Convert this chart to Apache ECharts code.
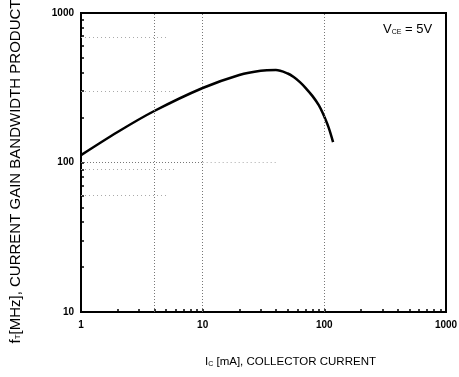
<!DOCTYPE html>
<html>
<head>
<meta charset="utf-8">
<script src="https://cdn.jsdelivr.net/npm/echarts@6/dist/echarts.min.js"></script>
<style>
  html, body { margin: 0; padding: 0; background: #fff; }
  #main { width: 459px; height: 377px; }
</style>
</head>
<body>
<div id="main"></div>
<script>
var myChart = echarts.init(document.getElementById('main'));

// collector current (mA) and gain bandwidth product (MHz)
var collectorCurrent = [1, 2, 4, 10, 20, 30, 40, 50, 56, 63, 70, 80, 90, 97, 108, 118];
var bandwidth = [112, 160, 221, 315, 385, 411, 415, 394, 373, 345, 316, 278, 242, 214, 173, 137];
var xTicks = [1, 10, 100, 1000];
var yTicks = [10, 100, 1000];

// small ticks at 1..9 of each decade
function decadeTicks(lo, hi) {
    var out = [];
    for (var d = lo; d < hi; d *= 10) {
        for (var k = 1; k < 10; k++) out.push(d * k);
    }
    out.push(hi);
    return out;
}

var curve = collectorCurrent.map(function (c, i) { return [c, bandwidth[i]]; });

var labelStyle = {
    color: '#000',
    fontFamily: 'Liberation Sans',
    fontWeight: 'bold',
    fontSize: 10,
    formatter: function (v) { return String(Math.round(v)); }
};

var dotted = { color: '#777', type: [1, 2], width: 1 };
var faint = { color: '#aaa', type: [1, 3], width: 1 };

option = {
    animation: false,
    grid: {
        left: 81,
        right: 13,
        top: 13,
        bottom: 65,
        outerBoundsMode: 'none',
        containLabel: false,
        show: true,
        borderColor: '#000',
        borderWidth: 2
    },
    xAxis: {
        type: 'log',
        min: 1,
        max: 1000,
        logBase: 10,
        axisLine: { lineStyle: { color: '#000', width: 2 } },
        axisTick: {
            show: true,
            inside: true,
            length: 3,
            customValues: decadeTicks(1, 1000),
            lineStyle: { color: '#000', width: 1.5 }
        },
        axisLabel: Object.assign({ margin: 8, customValues: xTicks }, labelStyle),
        splitLine: { show: false }
    },
    yAxis: {
        type: 'log',
        min: 10,
        max: 1000,
        logBase: 10,
        axisLine: { lineStyle: { color: '#000', width: 2 } },
        axisTick: {
            show: true,
            inside: true,
            length: 3,
            customValues: decadeTicks(10, 1000),
            lineStyle: { color: '#000', width: 1.5 }
        },
        axisLabel: Object.assign({ margin: 7, customValues: yTicks }, labelStyle),
        splitLine: { show: false },
        name: '{t|f}{s|T}{t|[MHz], CURRENT GAIN BANDWIDTH PRODUCT}',
        nameLocation: 'middle',
        nameGap: 58,
        nameTextStyle: {
            padding: [0, 18, 0, 0],
            rich: {
                t: { fontFamily: 'Liberation Sans', fontSize: 15, color: '#000' },
                s: { fontFamily: 'Liberation Sans', fontSize: 8, color: '#000', padding: [5, 0, 0, 0] }
            }
        }
    },
    graphic: [
        {
            type: 'text',
            left: 205,
            top: 356,
            style: {
                text: '{t|I}{s|C}{t| [mA], COLLECTOR CURRENT}',
                rich: {
                    t: { fontFamily: 'Liberation Sans', fontSize: 11.5, fill: '#000' },
                    s: { fontFamily: 'Liberation Sans', fontSize: 7, fill: '#000', padding: [4, 0, 0, 0] }
                }
            }
        },
        {
            type: 'text',
            left: 383,
            top: 23,
            style: {
                text: '{t|V}{s|CE}{t| = 5V}',
                rich: {
                    t: { fontFamily: 'Liberation Sans', fontSize: 13, fill: '#000' },
                    s: { fontFamily: 'Liberation Sans', fontSize: 7, fill: '#000', padding: [5, 0, 0, 0] }
                }
            }
        }
    ],
    series: [
        {
            type: 'line',
            data: curve,
            smooth: 0.3,
            showSymbol: false,
            lineStyle: { color: '#000', width: 2.5 },
            markLine: {
                silent: true,
                symbol: 'none',
                label: { show: false },
                lineStyle: dotted,
                data: [
                    [{ coord: [4, 10] }, { coord: [4, 1000] }],
                    [{ coord: [10, 10] }, { coord: [10, 1000] }],
                    [{ coord: [100, 10] }, { coord: [100, 1000] }],
                    [{ coord: [1, 100] }, { coord: [10, 100] }],
                    [{ coord: [10, 100], lineStyle: faint }, { coord: [40, 100] }],
                    [{ coord: [1, 90], lineStyle: faint }, { coord: [6, 90] }],
                    [{ coord: [1, 60], lineStyle: faint }, { coord: [5, 60] }],
                    [{ coord: [1, 300], lineStyle: faint }, { coord: [6, 300] }],
                    [{ coord: [1, 690], lineStyle: faint }, { coord: [5, 690] }]
                ]
            }
        }
    ]
};

myChart.setOption(option);
</script>
</body>
</html>
